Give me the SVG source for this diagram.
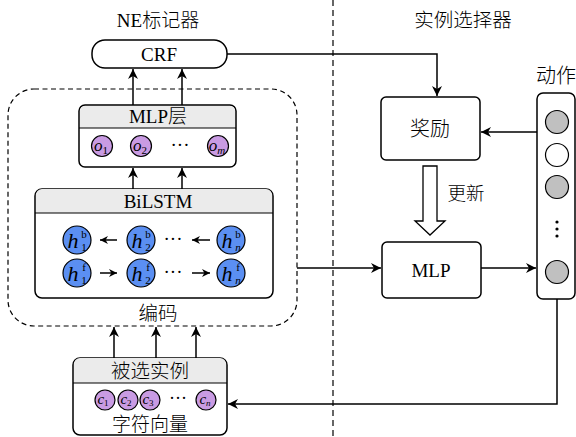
<svg xmlns="http://www.w3.org/2000/svg" width="576" height="437" viewBox="0 0 576 437">
<defs>
<style>
.t{font-family:"Liberation Serif","Noto Sans CJK SC",serif;fill:#000;text-anchor:middle}
.c{font-family:"Noto Sans CJK SC",sans-serif;font-weight:300;fill:#000;text-anchor:middle}
.box{fill:#fff;stroke:#000;stroke-width:1.5}
.hdr{fill:#ebebeb;stroke:none}
.ln{fill:none;stroke:#000;stroke-width:1.5}
.blue{fill:#5b8ff2;stroke:#000;stroke-width:1.2}
.pur{fill:#c99be3;stroke:#000;stroke-width:1.2}
.gray{fill:#c0c0c0;stroke:#000;stroke-width:1.2}
.wht{fill:#fff;stroke:#000;stroke-width:1.2}
.m{font-family:"Liberation Serif",serif;font-style:italic;fill:#000;text-anchor:middle}
.s{font-family:"Liberation Serif",serif;font-style:normal}
</style>
<marker id="ar" viewBox="0 0 10 10" refX="10" refY="5" markerWidth="8" markerHeight="8" markerUnits="userSpaceOnUse" orient="auto">
<path d="M0,0 L10,5 L0,10 L3,5 Z" fill="#000"/>
</marker>
<marker id="ar2" viewBox="0 0 10 10" refX="10" refY="5" markerWidth="10" markerHeight="10" markerUnits="userSpaceOnUse" orient="auto">
<path d="M0,0 L10,5 L0,10 L3,5 Z" fill="#000"/>
</marker>
</defs>
<rect width="576" height="437" fill="#fff"/>
<line x1="333" y1="0" x2="333" y2="437" stroke="#000" stroke-width="1.2" stroke-dasharray="6,4"/>
<text x="158" y="27" font-size="19" text-anchor="middle"><tspan font-family="Liberation Serif, serif">NE</tspan><tspan font-family="Noto Sans CJK SC, sans-serif" font-weight="300">标记器</tspan></text>
<text class="c" x="463" y="27" font-size="19.5">实例选择器</text>

<g id="encoder">
<rect x="8" y="89" width="289" height="237" rx="26" fill="none" stroke="#000" stroke-width="1.2" stroke-dasharray="5,3.5"/>
<text class="c" x="158" y="320" font-size="19.5">编码</text>
</g>

<g id="crf">
<rect class="box" x="92" y="40" width="135" height="28" rx="13"/>
<text class="t" x="159" y="61" font-size="19">CRF</text>
</g>

<g id="mlp-layer">
<rect class="box" x="79" y="105" width="157" height="62" rx="6"/>
<path class="hdr" d="M80,128 V111 a5,5 0 0 1 5,-5 H230 a5,5 0 0 1 5,5 V128 Z"/>
<line x1="79" y1="128" x2="236" y2="128" stroke="#000" stroke-width="1.2"/>
<text x="158" y="123" font-size="19" text-anchor="middle"><tspan font-family="Liberation Serif, serif">MLP</tspan><tspan font-family="Noto Sans CJK SC, sans-serif" font-weight="300">层</tspan></text>
<circle class="pur" cx="102" cy="146" r="10.5"/>
<circle class="pur" cx="141" cy="146" r="10.5"/>
<circle class="pur" cx="218" cy="146" r="10.5"/>
<text class="m" x="101" y="151" font-size="17">o<tspan class="s" font-size="11" dy="3">1</tspan></text>
<text class="m" x="140" y="151" font-size="17">o<tspan class="s" font-size="11" dy="3">2</tspan></text>
<text class="m" x="217" y="151" font-size="17">o<tspan font-size="11" dy="3">m</tspan></text>
<text class="t" x="180" y="151" font-size="19">···</text>
</g>

<g id="bilstm">
<rect class="box" x="35" y="189" width="238" height="109" rx="7"/>
<path class="hdr" d="M36,213 V195 a6,6 0 0 1 6,-6 H266 a6,6 0 0 1 6,6 V213 Z"/>
<line x1="35" y1="213" x2="273" y2="213" stroke="#000" stroke-width="1.2"/>
<text class="t" x="158" y="208" font-size="19">BiLSTM</text>
<circle class="blue" cx="77" cy="240" r="14"/>
<circle class="blue" cx="141" cy="240" r="14"/>
<circle class="blue" cx="231" cy="240" r="14"/>
<circle class="blue" cx="77" cy="273" r="14"/>
<circle class="blue" cx="141" cy="273" r="14"/>
<circle class="blue" cx="231" cy="273" r="14"/>
<text class="m" x="73" y="248" font-size="22">h</text><text class="t" x="84" y="238" font-size="11">b</text><text class="t" x="84" y="251" font-size="11">1</text>
<text class="m" x="137" y="248" font-size="22">h</text><text class="t" x="148" y="238" font-size="11">b</text><text class="t" x="148" y="251" font-size="11">2</text>
<text class="m" x="227" y="248" font-size="22">h</text><text class="t" x="238" y="238" font-size="11">b</text><text class="m" x="238" y="251" font-size="11">n</text>
<text class="m" x="73" y="281" font-size="22">h</text><text class="t" x="84" y="271" font-size="11">f</text><text class="t" x="84" y="284" font-size="11">1</text>
<text class="m" x="137" y="281" font-size="22">h</text><text class="t" x="148" y="271" font-size="11">f</text><text class="t" x="148" y="284" font-size="11">2</text>
<text class="m" x="227" y="281" font-size="22">h</text><text class="t" x="238" y="271" font-size="11">f</text><text class="m" x="238" y="284" font-size="11">n</text>
<text class="t" x="173" y="245" font-size="19">···</text>
<text class="t" x="173" y="278" font-size="19">···</text>
</g>

<g id="selected">
<rect class="box" x="73" y="358" width="154" height="77" rx="7"/>
<path class="hdr" d="M74,383 V364 a6,6 0 0 1 6,-6 H220 a6,6 0 0 1 6,6 V383 Z"/>
<line x1="73" y1="383" x2="227" y2="383" stroke="#000" stroke-width="1.2"/>
<text class="c" x="150" y="378" font-size="19.5">被选实例</text>
<circle class="pur" cx="105" cy="400" r="10"/>
<circle class="pur" cx="128" cy="400" r="10"/>
<circle class="pur" cx="150" cy="400" r="10"/>
<circle class="pur" cx="206" cy="400" r="10"/>
<text class="m" x="103" y="404" font-size="15">c<tspan class="s" font-size="9" dy="2">1</tspan></text>
<text class="m" x="126" y="404" font-size="15">c<tspan class="s" font-size="9" dy="2">2</tspan></text>
<text class="m" x="148" y="404" font-size="15">c<tspan class="s" font-size="9" dy="2">3</tspan></text>
<text class="m" x="205" y="404" font-size="15">c<tspan font-size="9" dy="2">n</tspan></text>
<text class="t" x="178" y="404" font-size="18">···</text>
<text class="c" x="150" y="431" font-size="19">字符向量</text>
</g>

<g id="reward">
<rect class="box" x="381" y="97" width="99" height="63" rx="5"/>
<text class="c" x="430" y="136" font-size="20">奖励</text>
</g>

<g id="mlp">
<rect class="box" x="382" y="242" width="99" height="56" rx="5"/>
<text class="t" x="431" y="277" font-size="19">MLP</text>
</g>

<g id="action">
<text class="c" x="556" y="83" font-size="20">动作</text>
<rect class="box" x="537" y="93" width="38" height="206" rx="6"/>
<circle class="gray" cx="557" cy="122" r="11.5"/>
<circle class="wht" cx="557" cy="155" r="11.5"/>
<circle class="gray" cx="557" cy="187" r="11.5"/>
<circle cx="557" cy="222" r="1.6" fill="#000"/>
<circle cx="557" cy="229" r="1.6" fill="#000"/>
<circle cx="557" cy="236" r="1.6" fill="#000"/>
<circle class="gray" cx="557" cy="272" r="11.5"/>
</g>

<g id="connectors">
<line class="ln" x1="133" y1="105" x2="133" y2="69" marker-end="url(#ar2)"/>
<line class="ln" x1="182" y1="105" x2="182" y2="69" marker-end="url(#ar2)"/>
<line class="ln" x1="133" y1="189" x2="133" y2="168" marker-end="url(#ar2)"/>
<line class="ln" x1="182" y1="189" x2="182" y2="168" marker-end="url(#ar2)"/>
<line class="ln" x1="114" y1="358" x2="114" y2="327" marker-end="url(#ar2)"/>
<line class="ln" x1="156" y1="358" x2="156" y2="327" marker-end="url(#ar2)"/>
<line class="ln" x1="196" y1="358" x2="196" y2="327" marker-end="url(#ar2)"/>
<line class="ln" x1="117" y1="240" x2="100" y2="240" marker-end="url(#ar)"/>
<line class="ln" x1="210" y1="240" x2="192" y2="240" marker-end="url(#ar)"/>
<line class="ln" x1="100" y1="273" x2="117" y2="273" marker-end="url(#ar)"/>
<line class="ln" x1="192" y1="273" x2="210" y2="273" marker-end="url(#ar)"/>
<polyline class="ln" points="227,54 437,54 437,96" marker-end="url(#ar2)"/>
<line class="ln" x1="537" y1="132" x2="481" y2="132" marker-end="url(#ar2)"/>
<line class="ln" x1="297" y1="268" x2="381" y2="268" marker-end="url(#ar2)"/>
<line class="ln" x1="481" y1="268" x2="536" y2="268" marker-end="url(#ar2)"/>
<polyline class="ln" points="557,299 557,404 228,404" marker-end="url(#ar2)"/>
<path d="M423,166 H437 V221 H445 L430,235 L415,221 H423 Z" fill="#fff" stroke="#000" stroke-width="1.3"/>
<text class="c" x="466" y="200" font-size="18.5">更新</text>
</g>
</svg>
